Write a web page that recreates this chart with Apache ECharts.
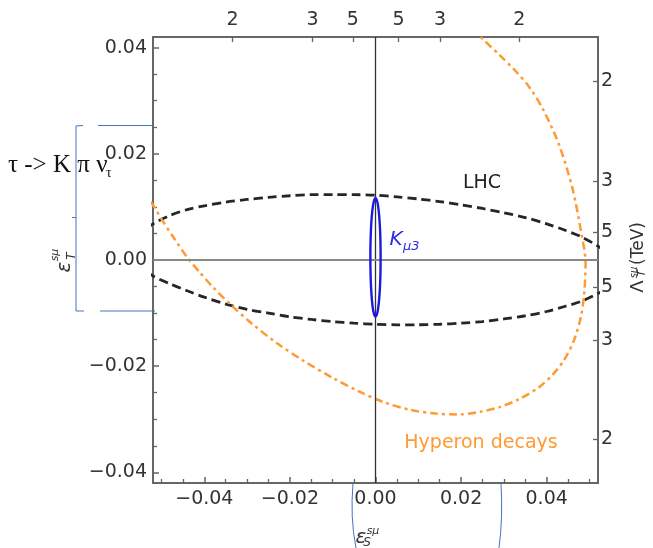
<!DOCTYPE html>
<html>
<head>
<meta charset="utf-8">
<script src="https://cdn.jsdelivr.net/npm/echarts@6/dist/echarts.min.js"></script>
<style>
  html, body { margin: 0; padding: 0; background: #fff; }
  #chart { width: 653px; height: 548px; }
</style>
</head>
<body>
<div id="chart"></div>
<script>
// LHC bound, dashed ellipse (upper and lower arcs)
var lhcUpper = [
  [-0.056, 0.0044], [-0.052, 0.0068], [-0.048, 0.0084], [-0.044, 0.0095], [-0.040, 0.0102],
  [-0.035, 0.0109], [-0.030, 0.0114], [-0.025, 0.0118], [-0.020, 0.0121], [-0.015, 0.0123],
  [-0.010, 0.0123], [-0.005, 0.0123], [0.000, 0.0122], [0.005, 0.0119], [0.010, 0.0115],
  [0.015, 0.0110], [0.020, 0.0104], [0.025, 0.0097], [0.030, 0.0089], [0.035, 0.0080],
  [0.040, 0.0068], [0.044, 0.0057], [0.048, 0.0044], [0.052, 0.0026], [0.056, 0.0002]
];
var lhcLower = [
  [-0.056, -0.0008], [-0.052, -0.0030], [-0.048, -0.0045], [-0.044, -0.0058], [-0.040, -0.0070],
  [-0.035, -0.0083], [-0.030, -0.0093], [-0.025, -0.0100], [-0.020, -0.0107], [-0.015, -0.0112],
  [-0.010, -0.0116], [-0.005, -0.0119], [0.000, -0.0121], [0.005, -0.0122], [0.010, -0.0122],
  [0.015, -0.0121], [0.020, -0.0119], [0.025, -0.0116], [0.030, -0.0111], [0.035, -0.0105],
  [0.040, -0.0097], [0.044, -0.0088], [0.048, -0.0078], [0.052, -0.0063], [0.056, -0.0042]
];
// K_mu3 narrow ellipse
var kmu3 = [
  [0.0012, 0.0005], [0.00116, 0.0034], [0.00104, 0.0061], [0.00085, 0.0084], [0.0006, 0.0102],
  [0.00031, 0.0113], [0, 0.0117], [-0.00031, 0.0113], [-0.0006, 0.0102], [-0.00085, 0.0084],
  [-0.00104, 0.0061], [-0.00116, 0.0034], [-0.0012, 0.0005], [-0.00116, -0.0024], [-0.00104, -0.0051],
  [-0.00085, -0.0074], [-0.0006, -0.0092], [-0.00031, -0.0103], [0, -0.0107], [0.00031, -0.0103],
  [0.0006, -0.0092], [0.00085, -0.0074], [0.00104, -0.0051], [0.00116, -0.0024], [0.0012, 0.0005]
];
// hyperon decays, dot-dashed
var hyperon = [
  [-0.0525, 0.0110], [-0.0500, 0.0077], [-0.0470, 0.0040], [-0.0440, 0.0005], [-0.0410, -0.0024],
  [-0.0380, -0.0051], [-0.0340, -0.0083], [-0.0290, -0.0119], [-0.0230, -0.0157], [-0.0170, -0.0189],
  [-0.0100, -0.0222], [-0.0040, -0.0247], [0.0020, -0.0268], [0.0080, -0.0282], [0.0140, -0.0289],
  [0.0190, -0.0291], [0.0244, -0.0286], [0.0290, -0.0277], [0.0336, -0.0262], [0.0383, -0.0239],
  [0.0414, -0.0216], [0.0441, -0.0188], [0.0464, -0.0151], [0.0480, -0.0107], [0.0488, -0.0060],
  [0.0491, -0.0005], [0.0480, 0.0055], [0.0460, 0.0136], [0.0429, 0.0217], [0.0392, 0.0283],
  [0.0360, 0.0325], [0.0326, 0.0357], [0.0290, 0.0386], [0.0252, 0.0415], [0.0235, 0.0428]
];

// ticks
var xMajor = [-0.04, -0.02, 0, 0.02, 0.04];
var xMinor = [-0.05, -0.045, -0.035, -0.03, -0.025, -0.015, -0.01, -0.005,
  0.005, 0.01, 0.015, 0.025, 0.03, 0.035, 0.045, 0.05];
var yMajor = [-0.04, -0.02, 0, 0.02, 0.04];
var yMinor = [-0.035, -0.03, -0.025, -0.015, -0.01, -0.005, 0.005, 0.01, 0.015, 0.025, 0.03, 0.035];
var topTickValues = [-0.0334, -0.0147, -0.0053, 0.0054, 0.0151, 0.0336];
var topTickLabels = ['2', '3', '5', '5', '3', '2'];
var rightTickValues = [0.0337, 0.0148, 0.0053, -0.0051, -0.0151, -0.0338];
var rightTickLabels = ['2', '3', '5', '5', '3', '2'];

var FONT = 'DejaVu Sans';
var frameColor = '#666';
var labelColor = '#333';

function fmt(v) {
  if (Math.abs(v) < 1e-9) return '0.00';
  return (v < 0 ? '\u2212' : '') + Math.abs(v).toFixed(2);
}

function hiddenLabel() {
  return { show: false };
}

var chart = echarts.init(document.getElementById('chart'));

var option = {
  animation: false,
  backgroundColor: '#fff',
  grid: { left: 153, right: 55, top: 37, bottom: 65, show: false },
  xAxis: [
    {
      type: 'value', position: 'bottom', min: -0.052, max: 0.052,
      axisLine: { onZero: false, lineStyle: { color: frameColor, width: 2 } },
      axisTick: { inside: true, length: 6, customValues: xMajor, lineStyle: { color: frameColor, width: 1.5 } },
      axisLabel: { customValues: xMajor, formatter: fmt, fontSize: 19, fontFamily: FONT, color: labelColor, margin: 7 },
      splitLine: { show: false }
    },
    {
      type: 'value', position: 'bottom', min: -0.052, max: 0.052,
      axisLine: { show: false, onZero: false },
      axisTick: { inside: true, length: 4, customValues: xMinor, lineStyle: { color: frameColor, width: 1.3 } },
      axisLabel: hiddenLabel(),
      splitLine: { show: false }
    },
    {
      type: 'value', position: 'top', min: -0.052, max: 0.052,
      axisLine: { onZero: false, lineStyle: { color: frameColor, width: 2 } },
      axisTick: { inside: true, length: 5, customValues: topTickValues, lineStyle: { color: frameColor, width: 1.3 } },
      axisLabel: {
        customValues: topTickValues,
        formatter: function (v) { return topTickLabels[topTickValues.indexOf(v)]; },
        fontSize: 19, fontFamily: FONT, color: labelColor, margin: 7
      },
      splitLine: { show: false }
    }
  ],
  yAxis: [
    {
      type: 'value', position: 'left', min: -0.042, max: 0.042,
      axisLine: { onZero: false, lineStyle: { color: frameColor, width: 2 } },
      axisTick: { inside: true, length: 6, customValues: yMajor, lineStyle: { color: frameColor, width: 1.5 } },
      axisLabel: { customValues: yMajor, formatter: fmt, fontSize: 19, fontFamily: FONT, color: labelColor, margin: 6 },
      splitLine: { show: false }
    },
    {
      type: 'value', position: 'left', min: -0.042, max: 0.042,
      axisLine: { show: false, onZero: false },
      axisTick: { inside: true, length: 4, customValues: yMinor, lineStyle: { color: frameColor, width: 1.3 } },
      axisLabel: hiddenLabel(),
      splitLine: { show: false }
    },
    {
      type: 'value', position: 'right', min: -0.042, max: 0.042,
      axisLine: { onZero: false, lineStyle: { color: frameColor, width: 2 } },
      axisTick: { inside: true, length: 5, customValues: rightTickValues, lineStyle: { color: frameColor, width: 1.3 } },
      axisLabel: {
        customValues: rightTickValues,
        formatter: function (v) { return rightTickLabels[rightTickValues.indexOf(v)]; },
        fontSize: 19, fontFamily: FONT, color: labelColor, margin: 3
      },
      splitLine: { show: false }
    }
  ],
  series: [
    {
      // zero lines
      type: 'line', data: [], xAxisIndex: 0, yAxisIndex: 0, z: 1,
      markLine: {
        silent: true, symbol: ['none', 'none'], label: { show: false },
        data: [
          { xAxis: 0, lineStyle: { color: '#333', width: 1.3, type: 'solid' } },
          { yAxis: 0, lineStyle: { color: '#888', width: 1.8, type: 'solid' } }
        ]
      }
    },
    {
      name: 'LHC upper', type: 'line', data: lhcUpper, smooth: 0.3, symbol: 'none', z: 3,
      lineStyle: { color: '#262626', width: 2.8, type: [9, 5] }
    },
    {
      name: 'LHC lower', type: 'line', data: lhcLower, smooth: 0.3, symbol: 'none', z: 3,
      lineStyle: { color: '#262626', width: 2.8, type: [9, 5] }
    },
    {
      name: 'Hyperon', type: 'line', data: hyperon, smooth: 0.3, symbol: 'none', z: 4,
      lineStyle: { color: '#ff9a33', width: 2.5, type: [8, 4, 3, 4] }
    },
    {
      name: 'Kmu3', type: 'line', data: kmu3, smooth: 0.3, symbol: 'none', z: 5,
      lineStyle: { color: '#1a1ae0', width: 2.4 }
    }
  ],
  graphic: [
    // curve labels
    { type: 'text', x: 482, y: 183, style: { text: 'LHC', fontSize: 19, fontFamily: FONT, fill: '#222', textAlign: 'center', textVerticalAlign: 'middle' } },
    { type: 'text', x: 396, y: 240, style: { text: 'K', fontSize: 20, fontStyle: 'italic', fontFamily: FONT, fill: '#2a2ae8', textAlign: 'center', textVerticalAlign: 'middle' } },
    { type: 'text', x: 403, y: 247, style: { text: '\u03bc3', fontSize: 13, fontStyle: 'italic', fontFamily: FONT, fill: '#2a2ae8', textAlign: 'left', textVerticalAlign: 'middle' } },
    { type: 'text', x: 481, y: 443, style: { text: 'Hyperon decays', fontSize: 19, fontFamily: FONT, fill: '#ff9a33', textAlign: 'center', textVerticalAlign: 'middle' } },

    // axis names
    { type: 'text', x: 361, y: 538, style: { text: '\u03b5', fontSize: 20, fontStyle: 'italic', fontFamily: FONT, fill: '#333', textAlign: 'center', textVerticalAlign: 'middle' } },
    { type: 'text', x: 367, y: 543, style: { text: 'S', fontSize: 12, fontStyle: 'italic', fontFamily: FONT, fill: '#333', textAlign: 'center', textVerticalAlign: 'middle' } },
    { type: 'text', x: 373, y: 531, style: { text: 's\u03bc', fontSize: 11, fontStyle: 'italic', fontFamily: FONT, fill: '#333', textAlign: 'center', textVerticalAlign: 'middle' } },

    { type: 'text', x: 65, y: 267, rotation: Math.PI / 2, style: { text: '\u03b5', fontSize: 20, fontStyle: 'italic', fontFamily: FONT, fill: '#333', textAlign: 'center', textVerticalAlign: 'middle' } },
    { type: 'text', x: 72, y: 256, rotation: Math.PI / 2, style: { text: 'T', fontSize: 12, fontStyle: 'italic', fontFamily: FONT, fill: '#333', textAlign: 'center', textVerticalAlign: 'middle' } },
    { type: 'text', x: 55.5, y: 255, rotation: Math.PI / 2, style: { text: 's\u03bc', fontSize: 11, fontStyle: 'italic', fontFamily: FONT, fill: '#333', textAlign: 'center', textVerticalAlign: 'middle' } },

    { type: 'text', x: 638.5, y: 286.5, rotation: Math.PI / 2, style: { text: '\u039b', fontSize: 18, fontFamily: FONT, fill: '#333', textAlign: 'center', textVerticalAlign: 'middle' } },
    { type: 'text', x: 634.5, y: 272.5, rotation: Math.PI / 2, style: { text: 's\u03bc', fontSize: 10, fontStyle: 'italic', fontFamily: FONT, fill: '#333', textAlign: 'center', textVerticalAlign: 'middle' } },
    { type: 'text', x: 642, y: 273.5, rotation: Math.PI / 2, style: { text: 'T', fontSize: 11, fontStyle: 'italic', fontFamily: FONT, fill: '#333', textAlign: 'center', textVerticalAlign: 'middle' } },
    { type: 'text', x: 639, y: 243.5, rotation: Math.PI / 2, style: { text: '(TeV)', fontSize: 17, fontFamily: FONT, fill: '#333', textAlign: 'center', textVerticalAlign: 'middle' } },

    // tau -> K pi nu annotation and blue brackets
    { type: 'text', x: 8, y: 165, style: { text: '\u03c4 -> K \u03c0 \u03bd', fontSize: 25, fontFamily: 'Liberation Serif', fill: '#111', textAlign: 'left', textVerticalAlign: 'middle' } },
    { type: 'text', x: 106, y: 173, style: { text: '\u03c4', fontSize: 14, fontFamily: 'Liberation Serif', fill: '#111', textAlign: 'left', textVerticalAlign: 'middle' } },
    { type: 'line', shape: { x1: 76, y1: 126, x2: 76, y2: 311 }, style: { stroke: '#4472c4', lineWidth: 1 } },
    { type: 'line', shape: { x1: 76, y1: 126, x2: 83, y2: 125.5 }, style: { stroke: '#4472c4', lineWidth: 1 } },
    { type: 'line', shape: { x1: 98, y1: 125.5, x2: 153, y2: 125.5 }, style: { stroke: '#4472c4', lineWidth: 1 } },
    { type: 'line', shape: { x1: 72, y1: 217.5, x2: 76, y2: 217.5 }, style: { stroke: '#4472c4', lineWidth: 1 } },
    { type: 'line', shape: { x1: 76, y1: 311, x2: 84, y2: 311 }, style: { stroke: '#4472c4', lineWidth: 1 } },
    { type: 'line', shape: { x1: 100, y1: 311, x2: 155, y2: 311 }, style: { stroke: '#4472c4', lineWidth: 1 } },
    { type: 'bezierCurve', shape: { x1: 353, y1: 483, x2: 356, y2: 548, cpx1: 350, cpy1: 518 }, style: { stroke: '#4472c4', lineWidth: 1, fill: 'none' } },
    { type: 'bezierCurve', shape: { x1: 501, y1: 483, x2: 499, y2: 548, cpx1: 503, cpy1: 518 }, style: { stroke: '#4472c4', lineWidth: 1, fill: 'none' } }
  ]
};

chart.setOption(option);
</script>
</body>
</html>
